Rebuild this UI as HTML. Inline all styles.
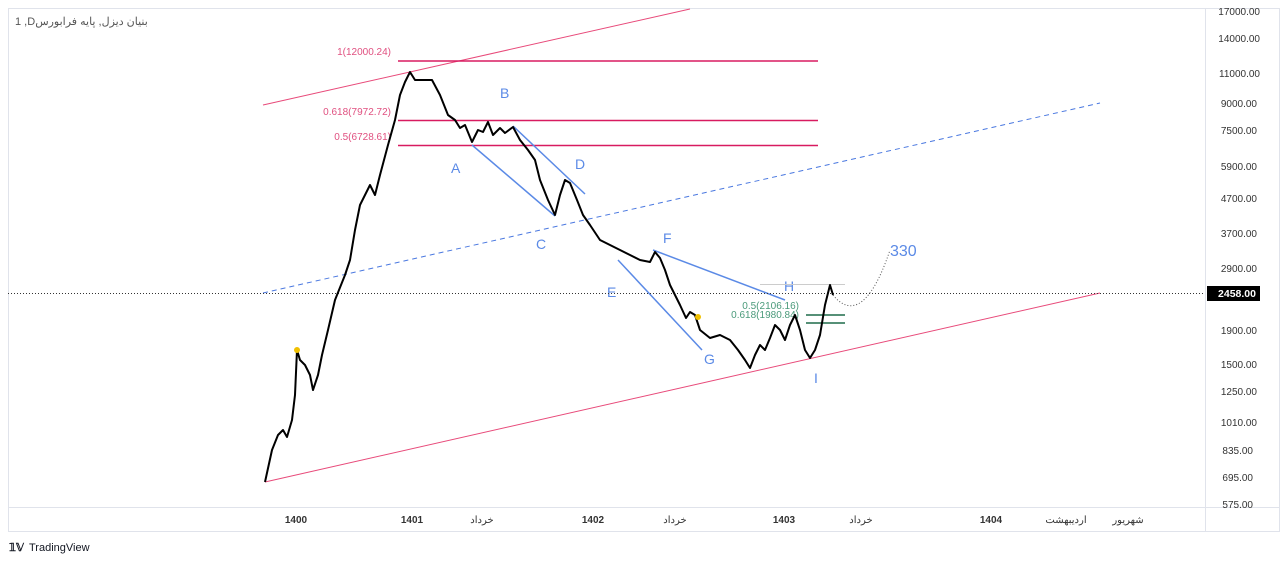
<!DOCTYPE html>
<html><head><meta charset="utf-8"><style>
body{margin:0;background:#fff;}
svg{display:block;font-family:"Liberation Sans","Noto Sans CJK SC",sans-serif;}
</style></head><body>
<svg width="1280" height="563" viewBox="0 0 1280 563">
<rect x="8.5" y="8.5" width="1271" height="523" fill="none" stroke="#e0e3eb"/>
<line x1="8" y1="507.5" x2="1280" y2="507.5" stroke="#e0e3eb"/>
<line x1="1205.5" y1="8" x2="1205.5" y2="531" stroke="#e0e3eb"/>
<text x="15" y="25" font-size="11" fill="#555" text-anchor="start">1 ,Dبنیان دیزل, پایه فرابورس</text>
<line x1="263" y1="105" x2="690" y2="9" stroke="#e84a7a" stroke-width="1"/>
<line x1="265" y1="482" x2="1100" y2="293" stroke="#e84a7a" stroke-width="1"/>
<line x1="263" y1="293" x2="1100" y2="103" stroke="#4a78e0" stroke-width="1" stroke-dasharray="5,4"/>
<line x1="398" y1="61" x2="818" y2="61" stroke="#d81b60" stroke-width="1.5"/>
<line x1="398" y1="120.5" x2="818" y2="120.5" stroke="#d81b60" stroke-width="1.5"/>
<line x1="398" y1="145.5" x2="818" y2="145.5" stroke="#d81b60" stroke-width="1.5"/>
<text x="391" y="55" font-size="10" fill="#e05080" text-anchor="end">1(12000.24)</text>
<text x="391" y="115" font-size="10" fill="#e05080" text-anchor="end">0.618(7972.72)</text>
<text x="391" y="140" font-size="10" fill="#e05080" text-anchor="end">0.5(6728.61)</text>
<g stroke="#5b8ae6" stroke-width="1.5">
<line x1="472" y1="145" x2="555" y2="216"/><line x1="513" y1="126" x2="585" y2="194"/>
<line x1="618" y1="260" x2="702" y2="350"/><line x1="653" y1="250" x2="785" y2="300"/>
</g>
<g font-size="14" fill="#5b8ae6">
<text x="500" y="98">B</text><text x="451" y="173">A</text><text x="575" y="169">D</text><text x="536" y="249">C</text>
<text x="663" y="243">F</text><text x="607" y="297">E</text><text x="704" y="364">G</text><text x="784" y="291">H</text><text x="814" y="383">I</text>
<text x="890" y="256" font-size="16">330</text>
</g>
<line x1="760" y1="284.5" x2="845" y2="284.5" stroke="#ccc"/>
<text x="799" y="309" font-size="10" fill="#4a9a7a" text-anchor="end">0.5(2106.16)</text>
<text x="799" y="318" font-size="10" fill="#4a9a7a" text-anchor="end">0.618(1980.84)</text>
<line x1="806" y1="315" x2="845" y2="315" stroke="#1e6b4a" stroke-width="1.5"/>
<line x1="806" y1="323" x2="845" y2="323" stroke="#1e6b4a" stroke-width="1.5"/>
<line x1="8" y1="293.5" x2="1205" y2="293.5" stroke="#333" stroke-width="1" stroke-dasharray="1,2"/>
<path d="M833,295 Q845,310 858,304 Q875,295 890,250" fill="none" stroke="#555" stroke-dasharray="1,2"/>
<polyline fill="none" stroke="#000" stroke-width="2" stroke-linejoin="round" points="265,482 272,450 278,435 283,430 287,437 292,420 295,395 297,350 300,360 305,365 310,375 313,390 318,375 322,355 328,330 335,300 345,275 350,260 355,230 360,205 365,195 370,185 375,195 380,175 388,145 395,120 400,95 405,82 410,72 415,80 432,80 440,95 448,115 455,120 460,128 465,125 472,142 478,130 483,132 488,122 493,135 500,128 505,133 513,127 520,140 528,150 535,160 540,180 548,200 555,215 560,195 565,180 570,183 577,200 583,215 590,225 600,240 610,245 620,250 630,255 640,260 650,262 655,252 660,258 665,270 670,285 675,295 680,305 686,318 690,312 695,315 700,330 710,338 720,335 730,340 738,350 745,360 750,368 755,355 760,345 765,350 770,338 775,325 780,330 785,340 790,325 795,315 800,330 805,350 810,358 815,350 820,335 825,305 830,285 833,295"/>
<circle cx="297" cy="350" r="3" fill="#f0c000"/><circle cx="698" cy="317" r="3" fill="#f0c000"/>
<g font-size="10" fill="#333" text-anchor="end">
<text x="1260" y="15">17000.00</text><text x="1260" y="42">14000.00</text><text x="1260" y="77">11000.00</text>
<text x="1257" y="107">9000.00</text><text x="1257" y="134">7500.00</text><text x="1257" y="170">5900.00</text>
<text x="1257" y="202">4700.00</text><text x="1257" y="237">3700.00</text><text x="1257" y="272">2900.00</text>
<text x="1257" y="334">1900.00</text><text x="1257" y="368">1500.00</text><text x="1257" y="395">1250.00</text>
<text x="1257" y="426">1010.00</text><text x="1253" y="454">835.00</text><text x="1253" y="481">695.00</text><text x="1253" y="508">575.00</text>
</g>
<rect x="1207" y="286" width="53" height="15" fill="#000"/>
<text x="1256" y="297" font-size="10.5" fill="#fff" text-anchor="end" font-weight="bold">2458.00</text>
<g font-size="10" fill="#333" text-anchor="middle">
<text x="296" y="523" font-weight="bold">1400</text><text x="412" y="523" font-weight="bold">1401</text><text x="482" y="523">خرداد</text>
<text x="593" y="523" font-weight="bold">1402</text><text x="675" y="523">خرداد</text><text x="784" y="523" font-weight="bold">1403</text>
<text x="861" y="523">خرداد</text><text x="991" y="523" font-weight="bold">1404</text><text x="1066" y="523">اردیبهشت</text><text x="1128" y="523">شهریور</text>
</g>
<text x="9" y="551" font-size="11" font-weight="bold" fill="#131722">𝟙𝕍</text>
<text x="29" y="551" font-size="11" fill="#131722">TradingView</text>
</svg>
</body></html>
